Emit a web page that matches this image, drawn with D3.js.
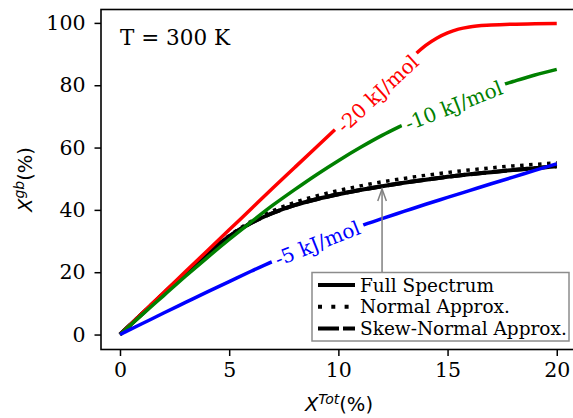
<!DOCTYPE html>
<html>
<head>
<meta charset="utf-8">
<script src="https://cdn.jsdelivr.net/npm/d3@7"></script>
<style>
  html, body { margin: 0; padding: 0; background: #fff; }
  svg { display: block; }
</style>
</head>
<body>
<svg id="chart" width="573" height="418"></svg>
<script>
// ---- data: grain-boundary fraction X^gb (%) versus total solute X^Tot (%) ----
const xTot = [0, 1, 2, 3, 4, 5, 6, 7, 8, 9, 10, 11, 12, 13, 14, 15, 16, 17, 18, 19, 20];
const fullSpectrum     = [0, 6.6, 13.2, 19.7, 25.9, 31.5, 35.8, 39.0, 41.5, 43.4, 45.0, 46.4, 47.6, 48.7, 49.7, 50.6, 51.4, 52.1, 52.8, 53.4, 54.0];
const normalApprox     = [0, 6.6, 13.2, 19.7, 26.0, 31.7, 36.3, 39.7, 42.4, 44.5, 46.2, 47.7, 49.0, 50.1, 51.1, 52.0, 52.8, 53.5, 54.1, 54.6, 55.1];
const skewNormalApprox = [0, 6.6, 13.2, 19.7, 25.9, 31.5, 35.8, 39.0, 41.5, 43.4, 45.0, 46.4, 47.6, 48.7, 49.7, 50.6, 51.4, 52.1, 52.8, 53.4, 54.0];
const seg10 = [0, 6.3, 12.5, 18.7, 24.7, 30.5, 36.1, 41.5, 46.5, 51.3, 55.8, 60.0, 63.9, 67.4, 70.8, 73.8, 76.5, 79.0, 81.2, 83.3, 85.1];
const seg5  = [0, 3.45, 6.9, 10.3, 13.7, 17.0, 20.3, 23.5, 26.5, 29.4, 32.1, 34.8, 37.2, 39.5, 41.8, 44.0, 46.2, 48.4, 50.5, 52.7, 54.8];
const xSeg20 = [0, 1, 2, 3, 4, 5, 6, 7, 8, 9, 10, 11, 12, 13, 13.5, 14, 14.5, 15, 15.5, 16, 17, 18, 19, 20];
const seg20  = [0, 6.75, 13.5, 20.2, 26.9, 33.6, 40.3, 47.0, 53.6, 60.2, 66.8, 73.4, 79.9, 86.4, 89.8, 92.8, 95.1, 96.8, 98.0, 98.7, 99.3, 99.6, 99.7, 99.8];

const xTicks = [0, 5, 10, 15, 20];
const yTicks = [0, 20, 40, 60, 80, 100];
const legendLabels = ["Full Spectrum", "Normal Approx.", "Skew-Normal Approx."];
const curveLabelText = ["-20 kJ/mol", "-10 kJ/mol", "-5 kJ/mol"];
const temperatureText = "T = 300 K";

// ---- layout ----
const svg = d3.select("#chart");
const serif = "'DejaVu Serif', serif";
const sans = "'DejaVu Sans', sans-serif";
const plot = { left: 101, right: 577.5, top: 9.5, bottom: 349.5 };

const x = d3.scaleLinear().domain([-0.87, 20.95]).range([plot.left, plot.right]);
const y = d3.scaleLinear().domain([-4.8, 104.3]).range([plot.bottom, plot.top]);

const defs = svg.append("defs");
const line = d3.line().x(d => x(d[0])).y(d => y(d[1])).curve(d3.curveMonotoneX);

function pairs(xs, ys) { return xs.map((v, i) => [v, ys[i]]); }
function interp(pts, xv) {
  for (let i = 1; i < pts.length; i++) {
    if (xv <= pts[i][0]) {
      const a = pts[i - 1], b = pts[i];
      const t = (xv - a[0]) / (b[0] - a[0]);
      return a[1] + t * (b[1] - a[1]);
    }
  }
  return pts[pts.length - 1][1];
}

const g = svg.append("g");

// black curves (full spectrum and approximations)
g.append("path").attr("d", line(pairs(xTot, skewNormalApprox)))
  .attr("fill", "none").attr("stroke", "#000").attr("stroke-width", 4)
  .attr("stroke-dasharray", "15,6");
g.append("path").attr("d", line(pairs(xTot, fullSpectrum)))
  .attr("fill", "none").attr("stroke", "#000").attr("stroke-width", 4);
g.append("path").attr("d", line(pairs(xTot, normalApprox)))
  .attr("fill", "none").attr("stroke", "#000").attr("stroke-width", 3.5)
  .attr("stroke-dasharray", "3.5,5.5");

// coloured curves with inline labels cut into them
const coloured = [
  { pts: pairs(xSeg20, seg20), color: "#ff0000", text: curveLabelText[0], gap: [9.84, 13.58], shift: 3 },
  { pts: pairs(xTot, seg10),   color: "#008000", text: curveLabelText[1], gap: [12.9, 17.63], shift: 1 },
  { pts: pairs(xTot, seg5),    color: "#0000ff", text: curveLabelText[2], gap: [6.95, 11.14], shift: 0 }
];

coloured.forEach((c, i) => {
  const p0 = [x(c.gap[0]), y(interp(c.pts, c.gap[0]))];
  const p1 = [x(c.gap[1]), y(interp(c.pts, c.gap[1]))];
  const cx = (p0[0] + p1[0]) / 2, cy = (p0[1] + p1[1]) / 2;
  const len = Math.hypot(p1[0] - p0[0], p1[1] - p0[1]);
  const ang = Math.atan2(p1[1] - p0[1], p1[0] - p0[0]) * 180 / Math.PI;

  const m = defs.append("mask").attr("id", "cut" + i).attr("maskUnits", "userSpaceOnUse")
    .attr("x", 0).attr("y", 0).attr("width", 573).attr("height", 418);
  m.append("rect").attr("x", 0).attr("y", 0).attr("width", 573).attr("height", 418).attr("fill", "#fff");
  m.append("rect").attr("x", -len / 2).attr("y", -8).attr("width", len).attr("height", 16)
    .attr("fill", "#000").attr("transform", `translate(${cx},${cy}) rotate(${ang})`);

  g.append("path").attr("d", line(c.pts)).attr("fill", "none")
    .attr("stroke", c.color).attr("stroke-width", 3.5).attr("mask", `url(#cut${i})`);

  // text follows the local slope at the gap centre
  const xm = x.invert(cx);
  const a = [x(xm - 0.4), y(interp(c.pts, xm - 0.4))];
  const b = [x(xm + 0.4), y(interp(c.pts, xm + 0.4))];
  const tang = Math.atan2(b[1] - a[1], b[0] - a[0]) * 180 / Math.PI;
  g.append("text").attr("transform", `translate(${cx},${cy}) rotate(${tang}) translate(0,${c.shift})`)
    .attr("text-anchor", "middle").attr("dominant-baseline", "central")
    .attr("font-family", serif).attr("font-size", 20).attr("fill", c.color)
    .text(c.text);
});

// axes frame
svg.append("rect").attr("x", plot.left).attr("y", plot.top)
  .attr("width", plot.right - plot.left).attr("height", plot.bottom - plot.top)
  .attr("fill", "none").attr("stroke", "#000").attr("stroke-width", 1.6);

const xAxis = svg.append("g").attr("transform", `translate(0,${plot.bottom})`)
  .call(d3.axisBottom(x).tickValues(xTicks).tickSize(6.5).tickPadding(6).tickFormat(d3.format("d")));
const yAxis = svg.append("g").attr("transform", `translate(${plot.left},0)`)
  .call(d3.axisLeft(y).tickValues(yTicks).tickSize(6.5).tickPadding(9).tickFormat(d3.format("d")));
[xAxis, yAxis].forEach(ax => {
  ax.select(".domain").remove();
  ax.selectAll(".tick line").attr("stroke", "#000").attr("stroke-width", 1.5);
  ax.selectAll(".tick text").attr("font-family", serif).attr("font-size", 20.5).attr("fill", "#000");
});

// temperature note
svg.append("text").attr("x", 120).attr("y", 45).attr("font-family", serif)
  .attr("font-size", 21.5).attr("fill", "#000").text(temperatureText);

// axis titles
const xt = svg.append("text").attr("x", 339).attr("y", 411).attr("text-anchor", "middle")
  .attr("font-family", sans).attr("font-size", 19.5).attr("fill", "#000");
xt.append("tspan").attr("font-style", "italic").text("X");
xt.append("tspan").attr("font-style", "italic").attr("font-size", 14).attr("dy", -7.5).text("Tot");
xt.append("tspan").attr("dy", 7.5).text("(%)");

const yt = svg.append("text").attr("transform", "translate(31.5,179.5) rotate(-90)")
  .attr("text-anchor", "middle").attr("font-family", sans).attr("font-size", 19.5).attr("fill", "#000");
yt.append("tspan").attr("font-style", "italic").text("X");
yt.append("tspan").attr("font-style", "italic").attr("font-size", 14).attr("dy", -7.5).text("gb");
yt.append("tspan").attr("dy", 7.5).text("(%)");

// annotation arrow from the legend to the full-spectrum curve
const ax = 12;
const tipY = y(interp(pairs(xTot, fullSpectrum), ax)) + 2.7;
const legTop = 272.5;
svg.append("line").attr("x1", x(ax)).attr("x2", x(ax)).attr("y1", legTop).attr("y2", tipY)
  .attr("stroke", "#808080").attr("stroke-width", 1.5);
svg.append("path").attr("d", `M${x(ax) - 4.3},${tipY + 12} L${x(ax)},${tipY} L${x(ax) + 4.3},${tipY + 12}`)
  .attr("fill", "none").attr("stroke", "#808080").attr("stroke-width", 1.5);

// legend
const leg = svg.append("g");
leg.append("rect").attr("x", 312).attr("y", legTop).attr("width", 257).attr("height", 68.5)
  .attr("fill", "#fff").attr("stroke", "#8c8c8c").attr("stroke-width", 1.5);
const dashes = [null, "4,9.3", "21,4"];
legendLabels.forEach((t, i) => {
  const ry = 285 + i * 21.7;
  const h = leg.append("line").attr("x1", 318).attr("x2", 355).attr("y1", ry).attr("y2", ry)
    .attr("stroke", "#000").attr("stroke-width", 4);
  if (dashes[i]) h.attr("stroke-dasharray", dashes[i]);
  leg.append("text").attr("x", 360).attr("y", ry).attr("dominant-baseline", "central")
    .attr("font-family", serif).attr("font-size", 18.5).attr("fill", "#000").text(t);
});
</script>
</body>
</html>
